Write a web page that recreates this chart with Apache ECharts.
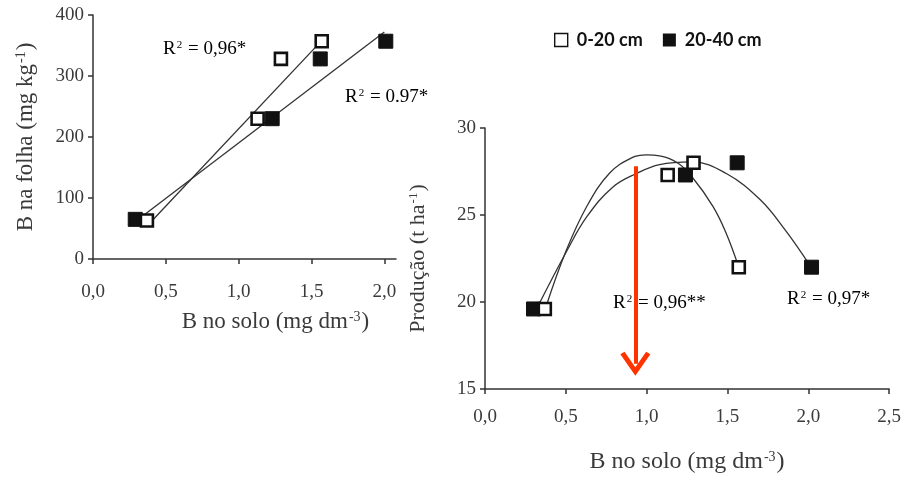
<!DOCTYPE html>
<html>
<head>
<meta charset="utf-8">
<script src="https://cdn.jsdelivr.net/npm/echarts@6/dist/echarts.min.js"></script>
<style>
  html, body { margin: 0; padding: 0; background: #fff; }
  #chart { width: 904px; height: 480px; }
</style>
</head>
<body>
<div id="chart"></div>
<script>
// left panel: B na folha vs B no solo
const leafOpen = [[0.37, 63], [1.13, 230], [1.29, 328], [1.57, 357]]
const leafFilled = [[0.29, 65], [1.23, 230], [1.56, 328], [2.01, 357]]
const leafLineOpen = [[0.41, 64], [1.57, 358]]
const leafLineFilled = [[0.35, 72], [2.0, 372]]

// right panel: Produção vs B no solo
const prodOpen = [[0.37, 19.6], [1.13, 27.3], [1.29, 28.0], [1.57, 22.0]]
const prodFilled = [[0.30, 19.6], [1.24, 27.3], [1.56, 28.0], [2.02, 22.0]]
const prodCurveOpen = [
  [0.38, 19.8], [0.5, 22.9], [0.63, 25.5], [0.77, 27.4], [0.91, 28.3], [1.0, 28.45],
  [1.08, 28.4], [1.19, 28.0], [1.28, 27.2], [1.41, 25.5], [1.49, 24.0], [1.57, 22.0],
]
const prodCurveFilled = [
  [0.33, 19.8], [0.51, 23.0], [0.63, 24.9], [0.79, 26.6], [0.94, 27.4], [1.08, 27.9],
  [1.28, 28.05], [1.49, 27.4], [1.70, 25.9], [1.86, 24.1], [2.01, 22.1],
]
const arrow = [[0.93, 27.8], [0.93, 16.45]]

const seriesNames = ['0-20 cm', '20-40 cm']

const serif = 'Liberation Serif'
const ink = '#3a3a3a'
const comma = v => v.toFixed(1).replace('.', ',')

const rich = size => ({
  a: { fontFamily: serif, fontSize: size, color: ink },
  s: { fontFamily: serif, fontSize: Math.round(size * 0.6), color: ink, verticalAlign: 'top', padding: [0, 1, 0, 1] },
})

const axisCommon = {
  axisLine: { show: true, lineStyle: { color: '#333', width: 1.5 } },
  axisTick: { show: true, inside: false, length: 5, lineStyle: { color: '#333', width: 1.5 } },
  splitLine: { show: false },
  axisLabel: { color: ink, fontFamily: serif, fontSize: 19 },
}

const lineStyle = { color: '#333', width: 1.3 }
const openItem = { color: '#fff', borderColor: '#111', borderWidth: 2.6, opacity: 1 }
const filledItem = { color: '#111', borderColor: '#111', borderWidth: 1, opacity: 1 }

const chart = echarts.init(document.getElementById('chart'))
chart.setOption({
  animation: false,
  legend: {
    top: 26,
    left: 549,
    itemWidth: 13,
    itemHeight: 13,
    itemGap: 20,
    icon: 'rect',
    textStyle: { fontFamily: 'Lato', fontWeight: 'bold', fontSize: 18, color: '#111', padding: [0, 0, 0, 4] },
    data: [
      { name: seriesNames[0], itemStyle: { color: '#fff', borderColor: '#111', borderWidth: 1.4 } },
      { name: seriesNames[1], itemStyle: { color: '#111', borderWidth: 0 } },
    ],
  },
  grid: [
    { left: 93, top: 15, width: 303, height: 244 },
    { left: 485, top: 128, width: 405, height: 261 },
  ],
  xAxis: [
    {
      ...axisCommon,
      gridIndex: 0,
      type: 'value',
      min: 0,
      max: 2.08,
      interval: 0.5,
      axisLabel: { ...axisCommon.axisLabel, margin: 24, formatter: comma },
      name: '{a|B no solo (mg dm}{s|-3}{a|)}',
      nameLocation: 'middle',
      nameGap: 51,
      nameTextStyle: { rich: rich(23), padding: [0, 0, 0, 62] },
    },
    {
      ...axisCommon,
      gridIndex: 1,
      type: 'value',
      min: 0,
      max: 2.5,
      interval: 0.5,
      axisLabel: { ...axisCommon.axisLabel, margin: 19, formatter: comma },
      name: '{a|B no solo (mg dm}{s|-3}{a|)}',
      nameLocation: 'middle',
      nameGap: 61,
      nameTextStyle: { rich: rich(24) },
    },
  ],
  yAxis: [
    {
      ...axisCommon,
      gridIndex: 0,
      type: 'value',
      min: 0,
      max: 400,
      interval: 100,
      axisLabel: { ...axisCommon.axisLabel, margin: 9 },
      name: '{a|B na folha (mg kg}{s|-1}{a|)}',
      nameLocation: 'middle',
      nameGap: 56,
      nameTextStyle: { rich: rich(23) },
    },
    {
      ...axisCommon,
      gridIndex: 1,
      type: 'value',
      min: 15,
      max: 30,
      interval: 5,
      axisLabel: { ...axisCommon.axisLabel, margin: 9 },
      name: '{a|Produção (t ha}{s|-1}{a|)}',
      nameLocation: 'middle',
      nameGap: 56,
      nameTextStyle: { rich: rich(22) },
    },
  ],
  graphic: [
    { type: 'text', left: 163, top: 40, style: { text: '{a|R}{s|2}{a| = 0,96*}', rich: rich(19) } },
    { type: 'text', left: 345, top: 88, style: { text: '{a|R}{s|2}{a| = 0.97*}', rich: rich(19) } },
    { type: 'text', left: 613, top: 294, style: { text: '{a|R}{s|2}{a| = 0,96**}', rich: rich(19) } },
    { type: 'text', left: 787, top: 290, style: { text: '{a|R}{s|2}{a| = 0,97*}', rich: rich(19) } },
  ],
  series: [
    { name: 'fit1', type: 'line', xAxisIndex: 0, yAxisIndex: 0, data: leafLineOpen, showSymbol: false, lineStyle, z: 2 },
    { name: 'fit2', type: 'line', xAxisIndex: 0, yAxisIndex: 0, data: leafLineFilled, showSymbol: false, lineStyle, z: 2 },
    { name: 'fit3', type: 'line', xAxisIndex: 1, yAxisIndex: 1, data: prodCurveOpen, smooth: 0.4, showSymbol: false, lineStyle, z: 2 },
    {
      name: 'fit4', type: 'line', xAxisIndex: 1, yAxisIndex: 1, data: prodCurveFilled, smooth: 0.4, showSymbol: false, lineStyle, z: 2,
      markLine: {
        silent: true,
        symbol: ['none', 'path://M0,9 L5,0 L10,9 L8.6,10 L5,3.6 L1.4,10 Z'],
        symbolSize: [30, 24],
        label: { show: false },
        lineStyle: { color: '#ff3300', width: 4, type: 'solid' },
        itemStyle: { color: '#ff3300' },
        data: [[{ coord: arrow[0] }, { coord: arrow[1] }]],
        z: 10,
      },
    },
    { name: seriesNames[0], type: 'scatter', xAxisIndex: 0, yAxisIndex: 0, data: leafOpen, symbol: 'rect', symbolSize: 12, itemStyle: openItem, z: 4 },
    { name: seriesNames[1], type: 'scatter', xAxisIndex: 0, yAxisIndex: 0, data: leafFilled, symbol: 'rect', symbolSize: 14, itemStyle: filledItem, z: 3 },
    { name: seriesNames[0], type: 'scatter', xAxisIndex: 1, yAxisIndex: 1, data: prodOpen, symbol: 'rect', symbolSize: 12, itemStyle: openItem, z: 4 },
    { name: seriesNames[1], type: 'scatter', xAxisIndex: 1, yAxisIndex: 1, data: prodFilled, symbol: 'rect', symbolSize: 14, itemStyle: filledItem, z: 3 },
  ],
})
</script>
</body>
</html>
